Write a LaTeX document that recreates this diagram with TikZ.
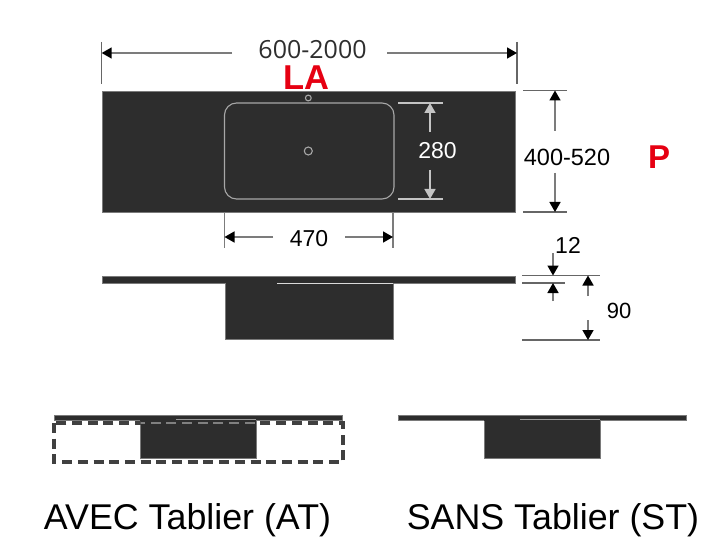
\documentclass[tikz,border=0pt]{standalone}
\usepackage{fontspec}
\setmainfont{Liberation Sans}
\newfontfamily\roundfont{Open Sans}
\usetikzlibrary{arrows.meta}
\definecolor{slab}{HTML}{2D2D2D}
\definecolor{edgegray}{HTML}{7A7A7A}
\definecolor{dimgray}{HTML}{7C7C7C}
\definecolor{inkgray}{HTML}{C4C4C4}
\definecolor{redlabel}{HTML}{E60012}
\tikzset{
  solid part/.style={fill=slab,draw=edgegray,line width=0.6pt},
  solid fill/.style={fill=slab},
  basin line/.style={draw=inkgray!85!black,line width=1.1pt},
  ext/.style={draw=dimgray,line width=1.3pt},
  extdark/.style={draw=black!60,line width=1.3pt},
  extlight/.style={draw=inkgray,line width=1.2pt},
  dimarrow/.style={draw=dimgray,line width=1.6pt,-{Triangle[length=10pt,width=11pt,color=black,fill=black]}},
  dimarrowlight/.style={draw=inkgray,line width=1.6pt,-{Triangle[length=10pt,width=11pt,color=inkgray,fill=inkgray]}},
  lab/.style={inner sep=0pt,font=\fontsize{23}{23}\selectfont},
  smalllab/.style={inner sep=0pt,font=\fontsize{22}{22}\selectfont},
  caption/.style={inner sep=0pt,font=\fontsize{35.8}{36}\selectfont},
  redlab/.style={inner sep=0pt,text=redlabel,font=\bfseries\fontsize{34.5}{35}\selectfont}
}
\begin{document}
\begin{tikzpicture}[x=1pt,y=-1pt]
\useasboundingbox (0,0) rectangle (720,540);
% top view
\fill[white] (0,0) rectangle (720,540);
\path[solid part] (102,91) rectangle (515.5,212);
\draw[basin line,rounded corners=12pt] (224.5,103) rectangle (394,199);
\draw[basin line] (308.3,98) circle (2.9pt);
\draw[basin line] (308.3,151) circle (4pt);
% overall width
\draw[extdark] (101.7,42) -- (101.7,84);
\draw[extdark] (517,42) -- (517,84);
\draw[dimarrow] (232,53) -- (101.7,53);
\draw[dimarrow] (387,53) -- (517,53);
\node[inner sep=0pt,text=black!82,font=\roundfont\fontsize{25}{25}\selectfont] (w) at (312.5,49.5) {600-2000};
\node[redlab] (la) at (306,77.5) {LA};
% basin depth
\draw[extlight] (398,103) -- (443,103);
\draw[extlight] (398,199) -- (443,199);
\draw[dimarrowlight] (430,132) -- (430,103);
\draw[dimarrowlight] (430,170) -- (430,199);
\node[lab,text=white] (d) at (437.5,150.5) {280};
% overall depth
\draw[extdark] (523,90.5) -- (567,90.5);
\draw[extdark] (523,212) -- (567,212);
\draw[dimarrow] (555,131) -- (555,90.5);
\draw[dimarrow] (555,173) -- (555,212);
\node[lab,font=\fontsize{23.5}{24}\selectfont] (p) at (567,157) {400-520};
\node[redlab,font=\bfseries\fontsize{33}{33}\selectfont] (pl) at (659,157) {P};
% basin width
\draw[ext] (224.5,212) -- (224.5,248);
\draw[ext] (393,212) -- (393,248);
\draw[dimarrow] (273,237) -- (224.5,237);
\draw[dimarrow] (345,237) -- (393,237);
\node[lab] (wb) at (309,238.5) {470};
% side view
\path[solid part] (102,276) rectangle (515,283);
\path[solid part] (225,283) rectangle (393,339);
\fill[solid fill] (225.5,281) rectangle (392.5,284);
\draw[draw=white!85!black,line width=1pt] (277,283.2) -- (393,283.2);
\draw[extdark] (522,275.5) -- (600,275.5);
\draw[extdark] (522,283) -- (565,283);
\draw[extdark] (522,340) -- (600,340);
\draw[dimarrow] (553,253) -- (553,275.5);
\draw[dimarrow] (553,301) -- (553,283);
\node[lab] (t) at (568,245) {12};
\draw[dimarrow] (588,296) -- (588,275.5);
\draw[dimarrow] (588,320) -- (588,340);
\node[smalllab] (h) at (619,311) {90};
% with apron
\path[solid part] (54,415) rectangle (342.5,420);
\path[solid part] (140,420) rectangle (256,458.7);
\fill[solid fill] (140.3,418) rectangle (255.7,421);
\draw[draw=white!60!black,line width=1.2pt] (176,419.8) -- (256,419.8);
\draw[black!75,line width=3.2pt,dash pattern=on 10pt off 5.7pt] (54,423) rectangle (343,462);
\begin{scope}
\clip (140.5,420) rectangle (255.5,426);
\fill[solid fill] (140.5,421) rectangle (255.5,426);
\draw[white!50!black,line width=1.6pt,dash pattern=on 10pt off 5.7pt] (54,423) rectangle (343,462);
\end{scope}
% without apron
\path[solid part] (398.5,415) rectangle (686.5,420);
\path[solid part] (484,420) rectangle (600,458.7);
\fill[solid fill] (484.3,418) rectangle (599.7,421);
\draw[draw=white!60!black,line width=1.2pt] (520,419.8) -- (600,419.8);
% captions
\node[caption] (at) at (187.5,520) {AVEC Tablier (AT)};
\node[caption] (st) at (553,520) {SANS Tablier (ST)};
\end{tikzpicture}
\end{document}
